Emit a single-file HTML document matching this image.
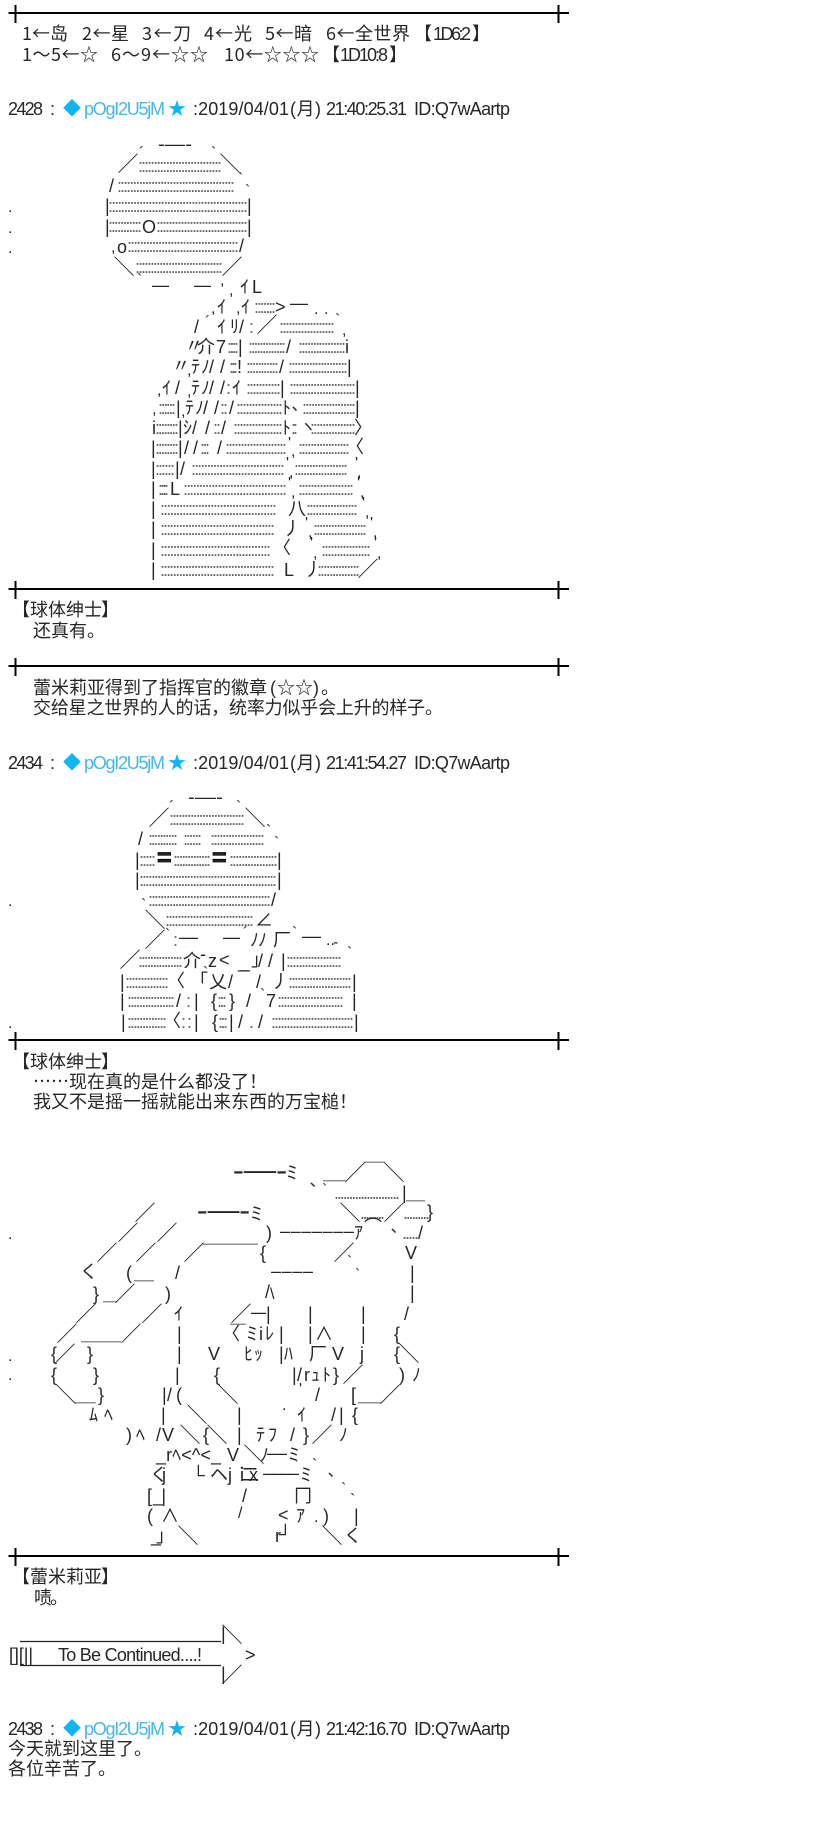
<!DOCTYPE html>
<html><head><meta charset="utf-8"><style>
html,body{margin:0;padding:0;background:#fff}
svg{display:block}
text{font-family:"Liberation Sans","Noto Sans CJK SC",sans-serif;font-size:18px;fill:#262626}
.d{fill:#666}
.b{fill:#45b8e8}
.s{fill:#12b5f0}
.t{font-size:16px}
.n{font-family:"Noto Sans CJK SC",sans-serif}
.l{font-size:21px;transform:translate(-1.5px,1.2px)}
</style></head><body>
<svg xmlns="http://www.w3.org/2000/svg" width="838" height="1829" viewBox="0 0 838 1829">
<rect width="838" height="1829" fill="#fff"/>
<path d="M8.5 13H569M15.5 5V23M558.5 5V23M8.5 589H569M15.5 581V599M558.5 581V599M8.5 666H569M15.5 658V676M558.5 658V676M8.5 1040H569M15.5 1032V1050M558.5 1032V1050M8.5 1556H569M15.5 1548V1566M558.5 1548V1566" stroke="#000" stroke-width="2" fill="none"/>

<!-- header -->
<text class="n" x="22" y="40" textLength="46">1←岛</text><text class="n" x="82" y="40" textLength="47">2←星</text><text class="n" x="142" y="40" textLength="49">3←刀</text><text class="n" x="204" y="40" textLength="48">4←光</text><text class="n" x="265" y="40" textLength="47">5←暗</text><text class="n" x="326" y="40" textLength="84">6←全世界</text><text class="n" x="414" y="40">【</text><text x="433" y="40" textLength="38">1D6:2</text><text class="n" x="472" y="40">】</text>
<text class="n" x="22" y="61" textLength="76">1～5←☆</text><text class="n" x="111" y="61" textLength="97">6～9←☆☆</text><text class="n" x="224" y="61" textLength="95">10←☆☆☆</text><text class="n" x="322" y="61">【</text><text x="340" y="61" textLength="48">1D10:8</text><text class="n" x="389" y="61">】</text>

<!-- post 2428 -->
<text x="8" y="115" textLength="35">2428</text><text x="50" y="115">:</text><text class="s" x="63" y="115">◆</text><text class="b" x="84" y="115" textLength="81">pOgI2U5jM</text><text class="s" x="168" y="115">★</text><text x="193" y="115" textLength="96">:2019/04/01</text><text x="290" y="115" textLength="31">(月)</text><text x="326" y="115" textLength="81">21:40:25.31</text><text x="414" y="115" textLength="96">ID:Q7wAartp</text>

<!-- sphere 1 -->
<text x="158" y="150" textLength="34" lengthAdjust="spacingAndGlyphs">-—-</text><text x="139" y="158" class="t">´</text><text x="211" y="158" class="t">`</text>
<text class="l" x="119" y="170">／</text><text class="d" x="138" y="172" textLength="84">:::::::::::::::::::::::::::</text><text class="l" x="221" y="170">＼</text>
<text x="109" y="192">/</text><text class="d" x="117" y="192" textLength="118">::::::::::::::::::::::::::::::::::::::</text><text x="238" y="184" class="t">`</text><text x="245" y="196" class="t">`</text>
<text x="105" y="212">|</text><text class="d" x="108" y="212" textLength="140">:::::::::::::::::::::::::::::::::::::::::::::</text><text x="247" y="212">|</text>
<text x="105" y="233">|</text><text class="d" x="108" y="232" textLength="34">:::::::::::</text><text x="142" y="233" textLength="13">O</text><text class="d" x="156" y="232" textLength="92">::::::::::::::::::::::::::::::</text><text x="247" y="233">|</text>
<text x="111" y="252" class="t">,</text><text x="117" y="253">o</text><text class="d" x="127" y="252" textLength="112">::::::::::::::::::::::::::::::::::::</text><text x="239" y="252">/</text>
<text class="l" x="115" y="273">＼</text><text class="d" x="135" y="273" textLength="88">:::::::::::::::::::::::::::::</text><text class="l" x="223" y="273">／</text>
<text x="137" y="285" class="t">`</text><text x="152" y="291" textLength="17" lengthAdjust="spacingAndGlyphs">—</text><text x="194" y="291" textLength="17" lengthAdjust="spacingAndGlyphs">—</text><text x="220" y="285" class="t">,</text><text x="229" y="295" class="t">,</text><text x="240" y="293">ｲ</text><text x="252" y="293">L</text>
<text x="8" y="212" class="t">.</text><text x="8" y="233" class="t">.</text><text x="8" y="253" class="t">.</text>

<!-- body -->
<text x="211" y="313" class="t">,</text><text x="217" y="313">ｲ</text><text x="236" y="313" class="t">,</text><text x="241" y="313">ｲ</text><text class="d" x="254" y="313" textLength="22">:::::::</text><text x="275" y="313">&gt;</text><text x="290" y="309" textLength="18" lengthAdjust="spacingAndGlyphs">—</text><text x="314" y="314" class="t">.</text><text x="324" y="314" class="t">.</text>
<text x="194" y="333">/</text><text x="205" y="327" class="t">´</text><text x="217" y="333">ｲ</text><text x="230" y="333">ﾘ</text><text x="239" y="333">/</text><text class="d" x="249" y="333">:</text><text class="l" x="258" y="331">／</text><text class="d" x="279" y="333" textLength="56">::::::::::::::::::</text><text x="335" y="325" class="t">`</text><text x="342" y="335" class="t">,</text>
<text x="185" y="352">〃</text><text x="197" y="353">介</text><text x="216" y="353">7</text><text class="d" x="227" y="353" textLength="12">::::</text><text x="238" y="353">|</text><text class="d" x="248" y="353" textLength="38">:::::::::::::</text><text x="286" y="353">/</text><text class="d" x="298" y="353" textLength="48">::::::::::::::::</text><text x="345" y="353">i</text>
<text x="172" y="372">〃</text><text x="187" y="375" class="t">,</text><text x="191" y="373">ﾃ</text><text x="201" y="373">ﾉ</text><text x="209" y="373" textLength="16">//</text><text class="d" x="229" y="373" textLength="9">:::</text><text x="237" y="373">!</text><text class="d" x="246" y="373" textLength="33">:::::::::::</text><text x="279" y="373">/</text><text class="d" x="288" y="373" textLength="60">::::::::::::::::::::</text><text x="347" y="373">|</text>
<text x="157" y="395" class="t">,</text><text x="162" y="394">ｲ</text><text x="175" y="394">/</text><text x="187" y="396" class="t">,</text><text x="191" y="394">ﾃ</text><text x="201" y="394">ﾉ</text><text x="209" y="394" textLength="16">//</text><text class="d" x="226" y="394">:</text><text x="232" y="394">ｲ</text><text class="d" x="246" y="394" textLength="35">:::::::::::</text><text x="280" y="394">|</text><text class="d" x="289" y="394" textLength="67">::::::::::::::::::::::</text><text x="355" y="394">|</text>
<text x="152" y="414" class="t">,</text><text class="d" x="158" y="414" textLength="18">::::::</text><text x="176" y="414">|</text><text x="181" y="416" class="t">,</text><text x="185" y="414">ﾃ</text><text x="195" y="414">ﾉ</text><text x="203" y="414" textLength="16">//</text><text class="d" x="220" y="414" textLength="8">::</text><text x="229" y="414">/</text><text class="d" x="236" y="414" textLength="47">:::::::::::::::</text><text x="282" y="414">ﾄ</text><text x="292" y="410" class="t">､</text><text class="d" x="302" y="414" textLength="54">::::::::::::::::::</text><text x="355" y="414">|</text>
<text x="152" y="434">i</text><text class="d" x="155" y="434" textLength="24">::::::::</text><text x="178" y="434">|</text><text x="183" y="434">ｼ</text><text x="192" y="434" textLength="18">//</text><text class="d" x="213" y="434" textLength="8">::</text><text x="221" y="434">/</text><text class="d" x="233" y="434" textLength="50">::::::::::::::::</text><text x="282" y="434">ﾄ</text><text class="d" x="291" y="434" textLength="7">::</text><text x="300" y="432" class="t">ヽ</text><text class="d" x="310" y="434" textLength="46">:::::::::::::::</text><text x="354" y="434">〉</text>
<text x="151" y="454">|</text><text class="d" x="155" y="454" textLength="24">::::::::</text><text x="178" y="454">|</text><text x="184" y="454" textLength="14">//</text><text class="d" x="200" y="454" textLength="10">:::</text><text x="217" y="454">/</text><text class="d" x="225" y="454" textLength="62">::::::::::::::::::::</text><text x="288" y="448" class="t">'</text><text x="291" y="456" class="t">,</text><text class="d" x="298" y="454" textLength="52">:::::::::::::::::</text><text x="346" y="453">〈</text>
<text x="151" y="475">|</text><text class="d" x="155" y="475" textLength="20">::::::</text><text x="175" y="475" textLength="10">|/</text><text class="d" x="191" y="475" textLength="94">::::::::::::::::::::::::::::::</text><text x="286" y="468" class="t">'</text><text x="289" y="477" class="t">,</text><text class="d" x="294" y="475" textLength="54">::::::::::::::::::</text><text x="355" y="468" class="t">'</text><text x="357" y="477" class="t">,</text>
<text x="151" y="495">|</text><text class="d" x="158" y="495" textLength="11">::::</text><text x="170" y="495">L</text><text class="d" x="183" y="495" textLength="104">:::::::::::::::::::::::::::::::::</text><text x="288" y="488" class="t">'</text><text x="291" y="497" class="t">,</text><text class="d" x="298" y="495" textLength="56">::::::::::::::::::</text><text x="357" y="488" class="t">'</text><text x="360" y="497" class="t">,</text>
<text x="151" y="515">|</text><text class="d" x="160" y="515" textLength="117">:::::::::::::::::::::::::::::::::::::</text><text x="288" y="515" textLength="14">八</text><text class="d" x="306" y="515" textLength="52">:::::::::::::::::</text><text x="362" y="508" class="t">'</text><text x="365" y="517" class="t">,</text>
<text x="151" y="535">|</text><text class="d" x="160" y="535" textLength="115">:::::::::::::::::::::::::::::::::::::</text><text x="283" y="535">丿</text><text x="305" y="528" class="t">'</text><text x="308" y="537" class="t">,</text><text class="d" x="313" y="535" textLength="54">::::::::::::::::::</text><text x="370" y="528" class="t">'</text><text x="373" y="537" class="t">,</text>
<text x="151" y="556">|</text><text class="d" x="160" y="556" textLength="111">:::::::::::::::::::::::::::::::::::</text><text x="273" y="554">〈</text><text x="310" y="548" class="t">'</text><text x="313" y="558" class="t">,</text><text class="d" x="321" y="556" textLength="50">::::::::::::::::</text><text x="374" y="548" class="t">'</text><text x="377" y="558" class="t">,</text>
<text x="151" y="576">|</text><text class="d" x="160" y="576" textLength="115">:::::::::::::::::::::::::::::::::::::</text><text x="284" y="576">L</text><text x="304" y="576">丿</text><text class="d" x="317" y="576" textLength="43">::::::::::::::</text><text class="l" x="359" y="575">／</text>

<text class="n" x="12" y="616">【</text><text class="n" x="30" y="616" textLength="72">球体绅士</text><text class="n" x="101" y="616">】</text>
<text class="n" x="33" y="637" textLength="72">还真有。</text>
<text class="n" x="33" y="694">蕾米莉亚得到了指挥官的徽章</text><text x="270" y="694">(</text><text class="n" x="277" y="694">☆☆</text><text x="313" y="694">)</text><text class="n" x="321" y="694">。</text>
<text class="n" x="33" y="714" textLength="410">交给星之世界的人的话，统率力似乎会上升的样子。</text>

<!-- post 2434 -->
<text x="8" y="769" textLength="35">2434</text><text x="50" y="769">:</text><text class="s" x="63" y="769">◆</text><text class="b" x="84" y="769" textLength="81">pOgI2U5jM</text><text class="s" x="168" y="769">★</text><text x="193" y="769" textLength="96">:2019/04/01</text><text x="290" y="769" textLength="31">(月)</text><text x="326" y="769" textLength="81">21:41:54.27</text><text x="414" y="769" textLength="96">ID:Q7wAartp</text>

<!-- sphere 2 -->
<text x="188" y="803" textLength="35" lengthAdjust="spacingAndGlyphs">-—-</text><text x="169" y="812" class="t">´</text><text x="236" y="812" class="t">`</text>
<text class="l" x="150" y="824">／</text><text class="d" x="169" y="825" textLength="76">:::::::::::::::::::::::::</text><text class="l" x="246" y="824">＼</text>
<text x="138" y="845">/</text><text class="d" x="148" y="845" textLength="30">::::::::::</text><text class="d" x="183" y="845" textLength="19">::::::</text><text class="d" x="210" y="845" textLength="55">::::::::::::::::::</text><text x="266" y="836" class="t">`</text><text x="274" y="848" class="t">`</text>
<text x="135" y="866">|</text><text class="d" x="139" y="866" textLength="17">:::::</text><text x="157" y="866" textLength="15" style="font-size:25px;font-weight:bold;stroke:#000;stroke-width:.8">=</text><text class="d" x="173" y="866" textLength="38">:::::::::::::</text><text x="212" y="866" textLength="15" style="font-size:25px;font-weight:bold;stroke:#000;stroke-width:.8">=</text><text class="d" x="229" y="866" textLength="49">::::::::::::::::</text><text x="277" y="866">|</text>
<text x="135" y="886">|</text><text class="d" x="139" y="886" textLength="138">::::::::::::::::::::::::::::::::::::::::::::::</text><text x="277" y="886">|</text>
<text x="141" y="910" class="t">`</text><text class="d" x="148" y="906" textLength="123">:::::::::::::::::::::::::::::::::::::::::</text><text x="271" y="906">/</text>
<text class="l" x="146" y="926">＼</text><text class="d" x="165" y="926" textLength="89">:::::::::::::::::::::::::::::</text><text x="255" y="926" textLength="14">∠</text>
<text class="l" x="146" y="946">／</text><text x="165" y="940" class="t">`</text><text class="d" x="173" y="946">:</text><text x="179" y="943" textLength="19" lengthAdjust="spacingAndGlyphs">—</text><text x="223" y="943" textLength="17" lengthAdjust="spacingAndGlyphs">—</text><text x="243" y="938" class="t">´</text><text x="250" y="946">ﾉ</text><text x="258" y="946">ﾉ</text><text x="273" y="946">厂</text><text x="292" y="938" class="t">`</text><text x="302" y="942" textLength="19" lengthAdjust="spacingAndGlyphs">—</text><text x="326" y="945" class="t">..</text><text x="333" y="947" class="t">-</text>
<text class="l" x="121" y="966">／</text><text class="d" x="138" y="967" textLength="45">:::::::::::::::</text><text x="183" y="967">介</text><text x="200" y="960" textLength="8">-</text><text x="208" y="967" textLength="9">z</text><text x="219" y="966">&lt;</text><text x="238" y="968" textLength="12">__</text><text x="251" y="966" textLength="7">｣</text><text x="258" y="967" textLength="15">//</text><text x="281" y="967">|</text><text class="d" x="286" y="967" textLength="56">::::::::::::::::::</text><text x="347" y="958" class="t">`</text>
<text x="120" y="988">|</text><text class="d" x="125" y="988" textLength="44">::::::::::::::</text><text x="167" y="987">〈</text><text x="190" y="987">「</text><text x="203" y="978" class="t">`</text><text x="209" y="988">乂</text><text x="228" y="988">/</text><text x="256" y="988">/</text><text x="271" y="988">丿</text><text class="d" x="288" y="988" textLength="64">:::::::::::::::::::::</text><text x="352" y="988">|</text>
<text x="120" y="1007">|</text><text class="d" x="127" y="1007" textLength="48">::::::::::::::::</text><text x="176" y="1007">/</text><text class="d" x="186" y="1007">:</text><text x="194" y="1007">|</text><text x="211" y="1007">{</text><text class="d" x="217" y="1007" textLength="10">:::</text><text x="229" y="1007">}</text><text x="246" y="1007">/</text><text x="260" y="1000" class="t">`</text><text x="266" y="1007">7</text><text class="d" x="277" y="1007" textLength="67">::::::::::::::::::::::</text><text x="352" y="1007">|</text>
<text x="121" y="1028">|</text><text class="d" x="127" y="1028" textLength="40">:::::::::::::</text><text x="163" y="1027">〈</text><text class="d" x="181" y="1028">:</text><text class="d" x="187" y="1028">:</text><text x="194" y="1028">|</text><text x="212" y="1028">{</text><text class="d" x="218" y="1028" textLength="10">:::</text><text x="229" y="1028">|</text><text x="238" y="1028">/</text><text class="d" x="249" y="1028">.</text><text x="258" y="1028">/</text><text class="d" x="271" y="1028" textLength="83">:::::::::::::::::::::::::::</text><text x="354" y="1028">|</text>
<text x="8" y="906" class="t">.</text><text x="8" y="1028" class="t">.</text>

<text class="n" x="12" y="1068">【</text><text class="n" x="30" y="1068" textLength="72">球体绅士</text><text class="n" x="101" y="1068">】</text>
<text class="n" x="33" y="1088" textLength="234">……现在真的是什么都没了！</text>
<text class="n" x="33" y="1108" textLength="324">我又不是摇一摇就能出来东西的万宝槌！</text>

<!-- big art -->
<text x="233" y="1177" textLength="54" lengthAdjust="spacingAndGlyphs" style="font-weight:bold">-—-</text><text x="286" y="1179" textLength="12" lengthAdjust="spacingAndGlyphs">ミ</text><text x="310" y="1186" class="t">､</text><text x="323" y="1179" textLength="23" lengthAdjust="spacingAndGlyphs">＿</text><text class="l" x="346" y="1179">／</text><text x="364" y="1178" textLength="21" lengthAdjust="spacingAndGlyphs">￣</text><text class="l" x="385" y="1179">＼</text>
<text x="322" y="1195" class="t">`</text><text class="d" x="334" y="1199" textLength="66">......................</text><text x="402" y="1199">|</text><text x="406" y="1199" textLength="19" lengthAdjust="spacingAndGlyphs">＿</text>
<text class="l" x="136" y="1219">／</text><text x="197" y="1217" textLength="53" lengthAdjust="spacingAndGlyphs" style="font-weight:bold">-—-</text><text x="250" y="1220" textLength="13" lengthAdjust="spacingAndGlyphs">ミ</text><text class="l" x="341" y="1219">＼</text><text class="d" x="360" y="1219" textLength="25">.........</text><text class="l" x="385" y="1219">／</text><text class="d" x="403" y="1219" textLength="27">.........</text><text x="427" y="1218">}</text>
<text class="l" x="119" y="1239">／</text><text class="l" x="158" y="1239">／</text><text x="266" y="1239">)</text><text x="280" y="1237" textLength="74">–––––––</text><text x="354" y="1239">ｱ</text><text x="364" y="1233" textLength="20">⌒</text><text x="391" y="1232" class="t">､</text><text class="d" x="402" y="1239" textLength="17">.....</text><text x="418" y="1239">/</text>
<text class="l" x="98" y="1259">／</text><text class="l" x="137" y="1259">／</text><text class="l" x="185" y="1259">／</text><text x="203" y="1260" textLength="55" lengthAdjust="spacingAndGlyphs">￣￣￣</text><text x="260" y="1259">{</text><text class="l" x="335" y="1259">／</text><text x="405" y="1259">V</text>
<text x="80" y="1278">く</text><text x="126" y="1279">(</text><text x="134" y="1279" textLength="20" lengthAdjust="spacingAndGlyphs">＿</text><text x="175" y="1279">/</text><text x="271" y="1277" textLength="42">––––</text><text x="347" y="1267" class="t">`</text><text x="355" y="1280" class="t">`</text><text x="410" y="1279">|</text>
<text x="93" y="1300">}</text><text x="103" y="1300" textLength="14" lengthAdjust="spacingAndGlyphs">＿</text><text class="l" x="116" y="1300">／</text><text x="165" y="1300">)</text><text x="265" y="1298">/</text><text x="270" y="1299" class="t">\</text><text x="410" y="1299">|</text>
<text class="l" x="77" y="1320">／</text><text class="l" x="143" y="1320">／</text><text x="174" y="1320">ｲ</text><text class="l" x="232" y="1320">／</text><text x="251" y="1318" textLength="15" lengthAdjust="spacingAndGlyphs">—</text><text x="266" y="1320">|</text><text x="308" y="1320">|</text><text x="361" y="1320">|</text><text x="404" y="1320">/</text>
<text class="l" x="58" y="1340">／</text><text class="l" x="122" y="1340">／</text><text x="81" y="1340" textLength="40" lengthAdjust="spacingAndGlyphs">＿＿</text><text x="177" y="1340">|</text><text x="222" y="1340">〈</text><text x="230" y="1340" textLength="16" lengthAdjust="spacingAndGlyphs">￣</text><text x="246" y="1340" textLength="12" lengthAdjust="spacingAndGlyphs">ミ</text><text x="259" y="1340">i</text><text x="265" y="1340">ﾚ</text><text x="279" y="1340">|</text><text x="308" y="1340">|</text><text x="315" y="1340">∧</text><text x="361" y="1340">|</text><text x="394" y="1340">{</text>
<text x="51" y="1360">{</text><text class="l" x="56" y="1360">／</text><text x="87" y="1360">}</text><text x="177" y="1360">|</text><text x="208" y="1360" textLength="13">V</text><text x="244" y="1360">ﾋ</text><text x="254" y="1360">ｯ</text><text x="279" y="1360">|</text><text x="284" y="1360">ﾊ</text><text x="309" y="1360">厂</text><text x="332" y="1360">V</text><text x="360" y="1360">j</text><text x="394" y="1360">{</text><text class="l" x="400" y="1360">＼</text>
<text x="51" y="1381">{</text><text x="93" y="1381">}</text><text x="175" y="1381">|</text><text x="214" y="1381">{</text><text x="292" y="1381">|</text><text x="297" y="1381">/</text><text x="304" y="1381">r</text><text x="311" y="1381">ｭ</text><text x="322" y="1381">ﾄ</text><text x="333" y="1381">}</text><text class="l" x="344" y="1381">／</text><text x="399" y="1381">)</text><text x="412" y="1381">ﾉ</text>
<text x="8" y="1239" class="t">.</text><text x="8" y="1361" class="t">.</text><text x="8" y="1380" class="t">.</text>
<text class="l" x="57" y="1401">＼</text><text x="75" y="1401" textLength="21" lengthAdjust="spacingAndGlyphs">＿</text><text x="98" y="1401">}</text><text x="162" y="1401">|</text><text x="167" y="1401">/</text><text x="176" y="1401">(</text><text class="l" x="219" y="1401">＼</text><text x="299" y="1394" class="t">'</text><text x="315" y="1401">/</text><text x="351" y="1401">[</text><text x="358" y="1401" textLength="23" lengthAdjust="spacingAndGlyphs">＿</text><text class="l" x="381" y="1401">／</text>
<text x="89" y="1421">ﾑ</text><text x="104" y="1421">ﾍ</text><text x="161" y="1421">|</text><text class="l" x="188" y="1421">＼</text><text x="237" y="1421">|</text><text x="282" y="1410" class="t">.</text><text x="297" y="1421">ｲ</text><text x="331" y="1421">/</text><text x="339" y="1421">|</text><text x="352" y="1421">{</text>
<text x="126" y="1441">)</text><text x="136" y="1441">ﾍ</text><text x="156" y="1441">/</text><text x="162" y="1441">V</text><text class="l" x="181" y="1441">＼</text><text x="203" y="1441">{</text><text class="l" x="208" y="1441">＼</text><text x="237" y="1441">|</text><text x="256" y="1441">ﾃ</text><text x="268" y="1441">ﾌ</text><text x="290" y="1441">/</text><text x="303" y="1441">}</text><text class="l" x="313" y="1441">／</text><text x="339" y="1441">ﾉ</text>
<text x="156" y="1461" textLength="65">_rﾍ&lt;^&lt;_</text><text x="227" y="1461">V</text><text class="l" x="245" y="1461">＼</text><text x="260" y="1461">ﾉ</text><text x="267" y="1459" textLength="20" lengthAdjust="spacingAndGlyphs">—</text><text x="288" y="1461" textLength="12" lengthAdjust="spacingAndGlyphs">ミ</text>
<text x="150" y="1481">く</text><text x="162" y="1481">j</text><text x="192" y="1481">└</text><text x="210" y="1481">ヘ</text><text x="228" y="1481">j</text><text x="233" y="1481" textLength="25">ｉ二x</text><text x="263" y="1479" textLength="36">––––</text><text x="300" y="1481" textLength="12" lengthAdjust="spacingAndGlyphs">ミ</text><text x="312" y="1470" class="t">`</text><text x="328" y="1476" class="t">､</text>
<text x="147" y="1502">[</text><text x="153" y="1502" textLength="13">_|</text><text x="242" y="1502">/</text><text x="294" y="1502" textLength="20">冂</text><text x="341" y="1494" class="t">`</text><text x="350" y="1505" class="t">`</text>
<text x="147" y="1522">(</text><text x="161" y="1522">∧</text><text x="238" y="1518" class="t">/</text><text x="278" y="1521">&lt;</text><text x="296" y="1522">ｱ</text><text x="314" y="1522" class="t">.</text><text x="323" y="1522">)</text><text x="354" y="1522">|</text>
<text x="151" y="1542" textLength="7">_</text><text x="156" y="1542">｣</text><text class="l" x="179" y="1542">＼</text><text x="275" y="1542">r</text><text x="279" y="1540">┘</text><text class="l" x="323" y="1542">＼</text><text x="344" y="1542">く</text>

<text class="n" x="12" y="1583">【</text><text class="n" x="30" y="1583" textLength="72">蕾米莉亚</text><text class="n" x="101" y="1583">】</text>
<text class="n" x="34" y="1604" textLength="34">啧。</text>

<!-- arrow -->
<path d="M20 1641.5H221M20 1665.5H221" stroke="#222" stroke-width="1.3"/>
<text x="221" y="1640">|</text><text class="l" x="223" y="1641">＼</text>
<text x="221" y="1680">|</text><text class="l" x="223" y="1681">／</text>
<text x="9" y="1661" textLength="24">[][||</text>
<text x="58" y="1661" textLength="144">To Be Continued....!</text>
<text x="245" y="1661" textLength="11">&gt;</text>

<!-- post 2438 -->
<text x="8" y="1735" textLength="35">2438</text><text x="50" y="1735">:</text><text class="s" x="63" y="1735">◆</text><text class="b" x="84" y="1735" textLength="81">pOgI2U5jM</text><text class="s" x="168" y="1735">★</text><text x="193" y="1735" textLength="96">:2019/04/01</text><text x="290" y="1735" textLength="31">(月)</text><text x="326" y="1735" textLength="81">21:42:16.70</text><text x="414" y="1735" textLength="96">ID:Q7wAartp</text>
<text class="n" x="8" y="1755" textLength="144">今天就到这里了。</text>
<text class="n" x="8" y="1775" textLength="108">各位辛苦了。</text>
</svg>
</body></html>
